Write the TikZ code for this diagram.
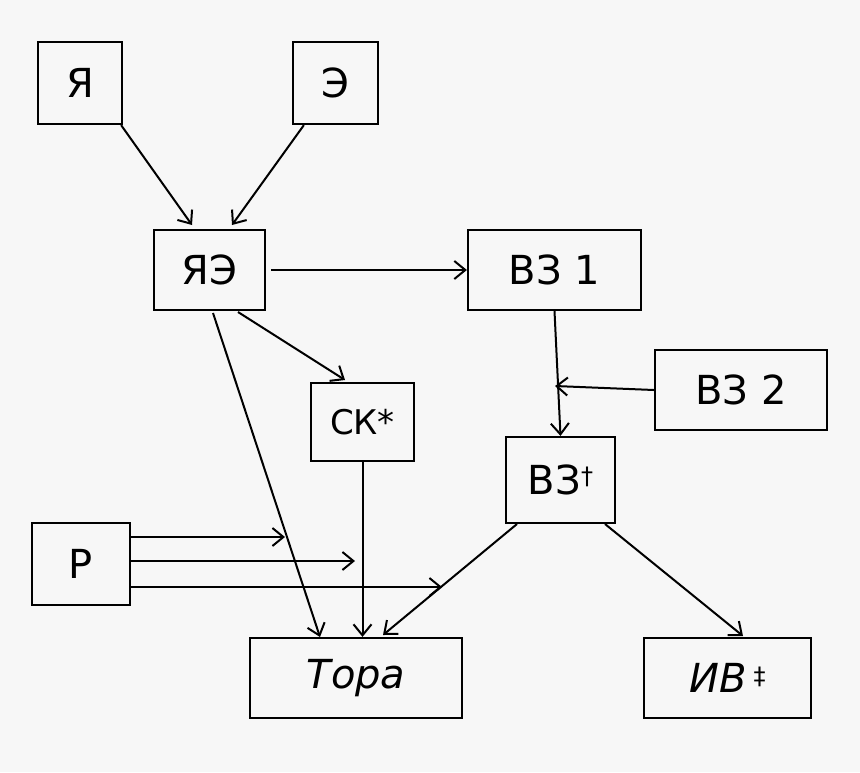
\documentclass[tikz,border=0pt]{standalone}
\usepackage{fontspec}
\setmainfont{DejaVu Sans}
\usetikzlibrary{arrows.meta}
\begin{document}
\begin{tikzpicture}[x=1pt,y=-1pt,
  box/.style={draw,line width=2.2pt,inner sep=0pt,font=\fontsize{40}{44}\selectfont},
  arr/.style={line width=2pt,-{Straight Barb[length=11pt,width=18pt,line width=2pt]}}]
\fill[black!3] (0,0) rectangle (860,772);
\useasboundingbox (0,0) rectangle (860,772);
\def\bx#1#2#3#4#5#6{\node[box,minimum width=#4-#2,minimum height=#5-#3] (#1) at ({(#2+#4)/2},{(#3+#5)/2}) {#6};}
\bx{ya}{38}{42}{122}{124}{Я}
\bx{e}{293}{42}{378}{124}{Э}
\bx{yae}{154}{230}{265}{310}{ЯЭ}
\bx{vz1}{468}{230}{641}{310}{ВЗ 1}
\bx{vz2}{655}{350}{827}{430}{ВЗ 2}
\bx{sk}{311}{383}{414}{461}{\fontsize{34}{38}\selectfont СК*}
\bx{vz}{506}{437}{615}{523}{ВЗ\raisebox{10pt}{\fontsize{24}{26}\selectfont †}}
\bx{r}{32}{523}{130}{605}{Р}
\bx{tora}{250}{638}{462}{718}{\itshape Тора}
\bx{iv}{644}{638}{811}{718}{\itshape ИВ\,\upshape\raisebox{8pt}{\fontsize{24}{26}\selectfont ‡}}
\coordinate (c1) at (555,386);
\coordinate (r1) at (130,537); \coordinate (r1e) at (285,537);
\coordinate (r2) at (130,561); \coordinate (r2e) at (355,561);
\coordinate (r3) at (130,587); \coordinate (r3e) at (442,587);
\draw[arr] (ya.south east) ++(-2,0) -- (192,225);
\draw[arr] (e.south west) ++(12,0) -- (232,225);
\draw[arr] (yae.east) ++(5,0) -- (vz1.west);
\draw[arr] (238,312) -- (345,380);
\draw[arr] (213,313) -- (320,637);
\draw[arr] (vz1.south) -- (vz.north);
\draw[arr] (vz2.west) -- (c1);
\draw[arr] (sk.south) -- (sk.south |- tora.north);
\draw[arr] (517,524) -- (383,635);
\draw[arr] (605,524) -- (743,636);
\draw[arr] (r1) -- (r1e);
\draw[arr] (r2) -- (r2e);
\draw[arr] (r3) -- (r3e);
\end{tikzpicture}
\end{document}
